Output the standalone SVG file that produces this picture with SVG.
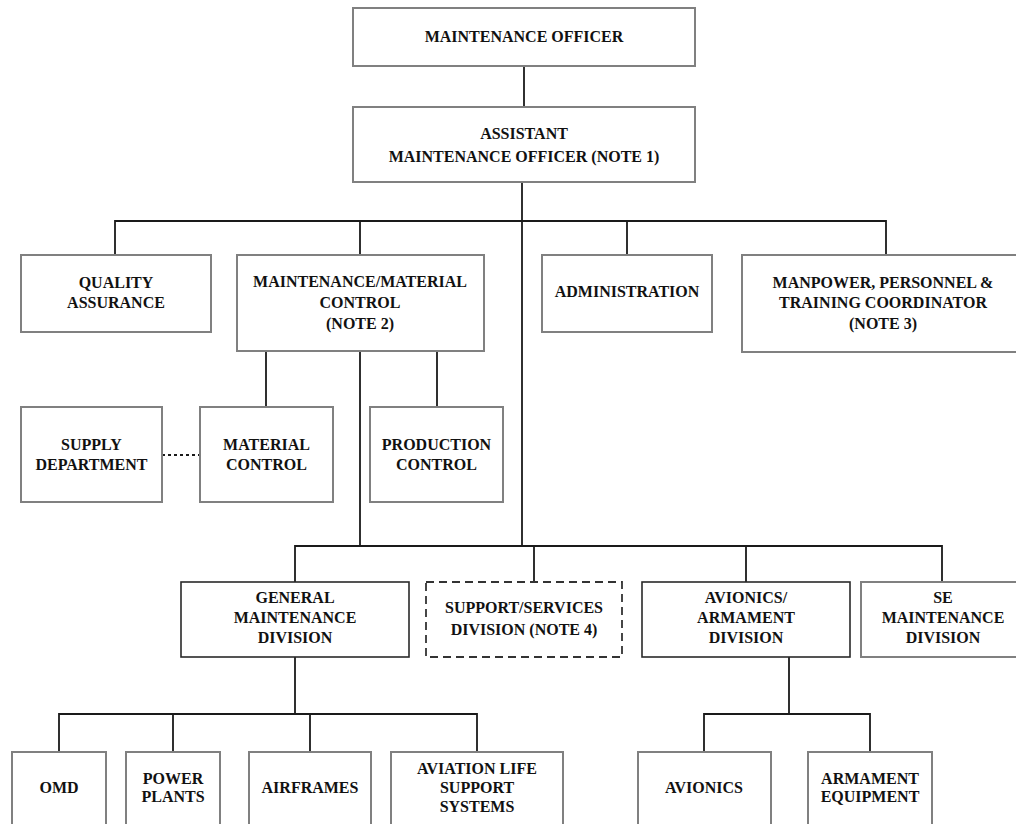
<svg xmlns="http://www.w3.org/2000/svg" width="1016" height="824" viewBox="0 0 1016 824">
<style>
.box{fill:#fff;stroke:#808080;stroke-width:2}
.dark{fill:#fff;stroke:#2a2a2a;stroke-width:1.6}
.dash{fill:#fff;stroke:#333;stroke-width:1.8;stroke-dasharray:8 5}
.t{font-family:"Liberation Serif","Times New Roman",serif;font-weight:bold;font-size:16px;fill:#111;text-anchor:middle}
.c{fill:none;stroke:#1a1a1a;stroke-width:1.8}
.dot{fill:none;stroke:#1a1a1a;stroke-width:1.8;stroke-dasharray:3 3}
</style>
<rect width="1016" height="824" fill="#fff"/>
<g id="connectors">
<path class="c" d="M524 66V107"/>
<path class="c" d="M522 182V546"/>
<path class="c" d="M115 255V221H886V255M360 221V255M627 221V255"/>
<path class="c" d="M266 351V407M437 351V407M360 351V546"/>
<path class="dot" d="M162 455H200"/>
<path class="c" d="M295 582V546H942V582M534 546V582M746 546V582"/>
<path class="c" d="M295 657V714M59 752V714H477V752M173 714V752M310 714V752"/>
<path class="c" d="M789 657V714M704 752V714H870V752"/>
</g>
<g id="maintenance-officer"><rect class="box" x="353" y="8" width="342" height="58"/><text class="t" x="524" y="42">MAINTENANCE OFFICER</text></g>
<g id="assistant-mo"><rect class="box" x="353" y="107" width="342" height="75"/><text class="t" x="524" y="139">ASSISTANT</text><text class="t" x="524" y="162">MAINTENANCE OFFICER (NOTE 1)</text></g>
<g id="quality-assurance"><rect class="box" x="21" y="255" width="190" height="77"/><text class="t" x="116" y="288">QUALITY</text><text class="t" x="116" y="308">ASSURANCE</text></g>
<g id="mmc"><rect class="box" x="237" y="255" width="247" height="96"/><text class="t" x="360" y="287">MAINTENANCE/MATERIAL</text><text class="t" x="360" y="308">CONTROL</text><text class="t" x="360" y="329">(NOTE 2)</text></g>
<g id="administration"><rect class="box" x="542" y="255" width="170" height="77"/><text class="t" x="627" y="297">ADMINISTRATION</text></g>
<g id="manpower"><rect class="box" x="742" y="255" width="284" height="97"/><text class="t" x="883" y="288">MANPOWER, PERSONNEL &amp;</text><text class="t" x="883" y="308">TRAINING COORDINATOR</text><text class="t" x="883" y="329">(NOTE 3)</text></g>
<g id="supply"><rect class="box" x="21" y="407" width="141" height="95"/><text class="t" x="91.5" y="450">SUPPLY</text><text class="t" x="91.5" y="470">DEPARTMENT</text></g>
<g id="material-control"><rect class="box" x="200" y="407" width="133" height="95"/><text class="t" x="266.5" y="450">MATERIAL</text><text class="t" x="266.5" y="470">CONTROL</text></g>
<g id="production-control"><rect class="box" x="370" y="407" width="133" height="95"/><text class="t" x="436.5" y="450">PRODUCTION</text><text class="t" x="436.5" y="470">CONTROL</text></g>
<g id="general-maintenance"><rect class="dark" x="181" y="582" width="228" height="75"/><text class="t" x="295" y="603">GENERAL</text><text class="t" x="295" y="623">MAINTENANCE</text><text class="t" x="295" y="643">DIVISION</text></g>
<g id="support-services"><rect class="dash" x="426" y="582" width="196" height="75"/><text class="t" x="524" y="613">SUPPORT/SERVICES</text><text class="t" x="524" y="635">DIVISION (NOTE 4)</text></g>
<g id="avionics-armament"><rect class="dark" x="642" y="582" width="208" height="75"/><text class="t" x="746" y="603">AVIONICS/</text><text class="t" x="746" y="623">ARMAMENT</text><text class="t" x="746" y="643">DIVISION</text></g>
<g id="se-maintenance"><rect class="box" x="861" y="582" width="166" height="75"/><text class="t" x="943" y="603">SE</text><text class="t" x="943" y="623">MAINTENANCE</text><text class="t" x="943" y="643">DIVISION</text></g>
<g id="omd"><rect class="box" x="12" y="752" width="94" height="80"/><text class="t" x="59" y="793">OMD</text></g>
<g id="power-plants"><rect class="box" x="126" y="752" width="94" height="80"/><text class="t" x="173" y="784">POWER</text><text class="t" x="173" y="802">PLANTS</text></g>
<g id="airframes"><rect class="box" x="249" y="752" width="122" height="80"/><text class="t" x="310" y="793">AIRFRAMES</text></g>
<g id="alss"><rect class="box" x="391" y="752" width="172" height="80"/><text class="t" x="477" y="774">AVIATION LIFE</text><text class="t" x="477" y="793">SUPPORT</text><text class="t" x="477" y="812">SYSTEMS</text></g>
<g id="avionics"><rect class="box" x="638" y="752" width="133" height="80"/><text class="t" x="704" y="793">AVIONICS</text></g>
<g id="armament-equipment"><rect class="box" x="808" y="752" width="124" height="80"/><text class="t" x="870" y="784">ARMAMENT</text><text class="t" x="870" y="802">EQUIPMENT</text></g>
</svg>
